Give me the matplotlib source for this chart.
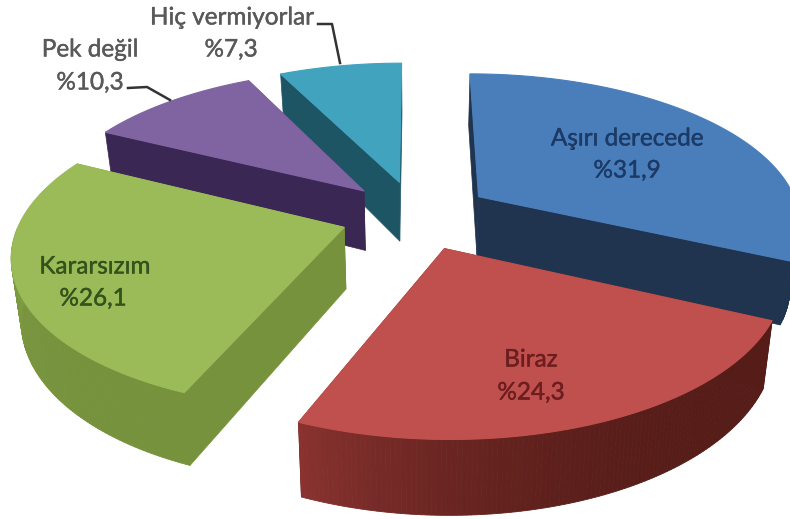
import numpy as np
import matplotlib
matplotlib.use("Agg")
import matplotlib.pyplot as plt
import matplotlib.patheffects as pe
from matplotlib.patches import Polygon
from matplotlib.colors import to_rgb

plt.rcParams['font.family'] = ['Lato', 'DejaVu Sans']

etiketler = ["Aşırı derecede", "Biraz", "Kararsızım", "Pek değil", "Hiç vermiyorlar"]
valores = [31.9, 24.3, 26.1, 10.3, 7.3]
textos = ["%31,9", "%24,3", "%26,1", "%10,3", "%7,3"]

cor_topo = ["#4a7ebb", "#c0504d", "#9bbb59", "#8064a2", "#42a3bf"]
cor_lado = ["#20344f", "#5a1f1c", "#76923c", "#3b2753", "#1d5565"]
cor_arco = ["#20344f", "#8a3330", "#7f9e45", "#3b2753", "#1d5565"]
cor_arco2 = ["#20344f", "#551c18", "#76923c", "#3b2753", "#1d5565"]
cor_texto = ["#1c3a66", "#6b1d1f", "#34521c", "#595959", "#595959"]

# posicao dos textos em pixels (nome, valor)
pos_nome = [(627, 139), (531, 360), (95, 267), (90, 50), (232, 18)]
pos_valor = [(627, 171), (531, 393), (93, 299), (90, 83), (231, 50)]

# parametros da perspectiva
cx, cy = 416, 215
rx, ry = 322, 148
k = 0.161
exp = 0.235
prof = 61
enc = 0.975


def projeta(u, v):
    s = 1 / (1 - k * v)
    return cx + rx * u * s, cy + ry * v * s, s


def topo(u, v):
    x, y, s = projeta(u, v)
    return np.column_stack([x, y])


def base(u, v):
    x, y, s = projeta(u, v)
    return np.column_stack([cx + (x - cx) * enc, y + prof * s])


def mistura(c1, c2, t):
    a = np.array(to_rgb(c1))
    b = np.array(to_rgb(c2))
    return a + (b - a) * t


fig = plt.figure(figsize=(7.9, 5.19), dpi=100)
ax = fig.add_axes([0, 0, 1, 1])
ax.set_xlim(0, 790)
ax.set_ylim(519, 0)
ax.axis('off')

total = sum(valores)
inicio = np.cumsum([0] + valores[:-1]) / total * 2 * np.pi
fim = np.cumsum(valores) / total * 2 * np.pi

for i in [4, 3, 0, 2, 1]:
    meio = (inicio[i] + fim[i]) / 2
    u0 = exp * np.sin(meio)
    v0 = -exp * np.cos(meio)
    t = np.linspace(inicio[i], fim[i], 120)
    u = u0 + np.sin(t)
    v = v0 - np.cos(t)
    a0 = np.array([u0])
    b0 = np.array([v0])

    # faces radiais
    for j in [0, -1]:
        uu = np.array([u0, u[j]])
        vv = np.array([v0, v[j]])
        q = np.vstack([topo(uu, vv), base(uu, vv)[::-1]])
        ax.add_patch(Polygon(q, closed=True, fc=cor_lado[i], ec=cor_lado[i], lw=0.5))

    # parte da frente do arco
    f = np.where(np.cos(t) < 0)[0]
    if len(f) > 1:
        for n in range(f[0], f[-1]):
            uu = u[n:n + 2]
            vv = v[n:n + 2]
            q = np.vstack([topo(uu, vv), base(uu, vv)[::-1]])
            c = mistura(cor_arco2[i], cor_arco[i], ((n - f[0]) / (f[-1] - f[0])) ** 3)
            ax.add_patch(Polygon(q, closed=True, fc=c, ec=c, lw=0.6))

    # topo
    q = np.vstack([topo(a0, b0), topo(u, v)])
    ax.add_patch(Polygon(q, closed=True, fc=cor_topo[i], ec=cor_topo[i], lw=0.8, joinstyle='round'))

for i in range(len(valores)):
    for pos, s in [(pos_nome[i], etiketler[i]), (pos_valor[i], textos[i])]:
        ax.text(pos[0], pos[1], s, color=cor_texto[i], fontsize=17.5, ha='center', va='center',
                path_effects=[pe.withStroke(linewidth=0.3, foreground=cor_texto[i])])

# linhas de chamada
ax.plot([128, 147, 170], [88, 87, 100], color="#333333", lw=1.8)
ax.plot([318, 332, 340], [24, 24, 63], color="#333333", lw=1.8)

fig.savefig("out.png", dpi=100)
